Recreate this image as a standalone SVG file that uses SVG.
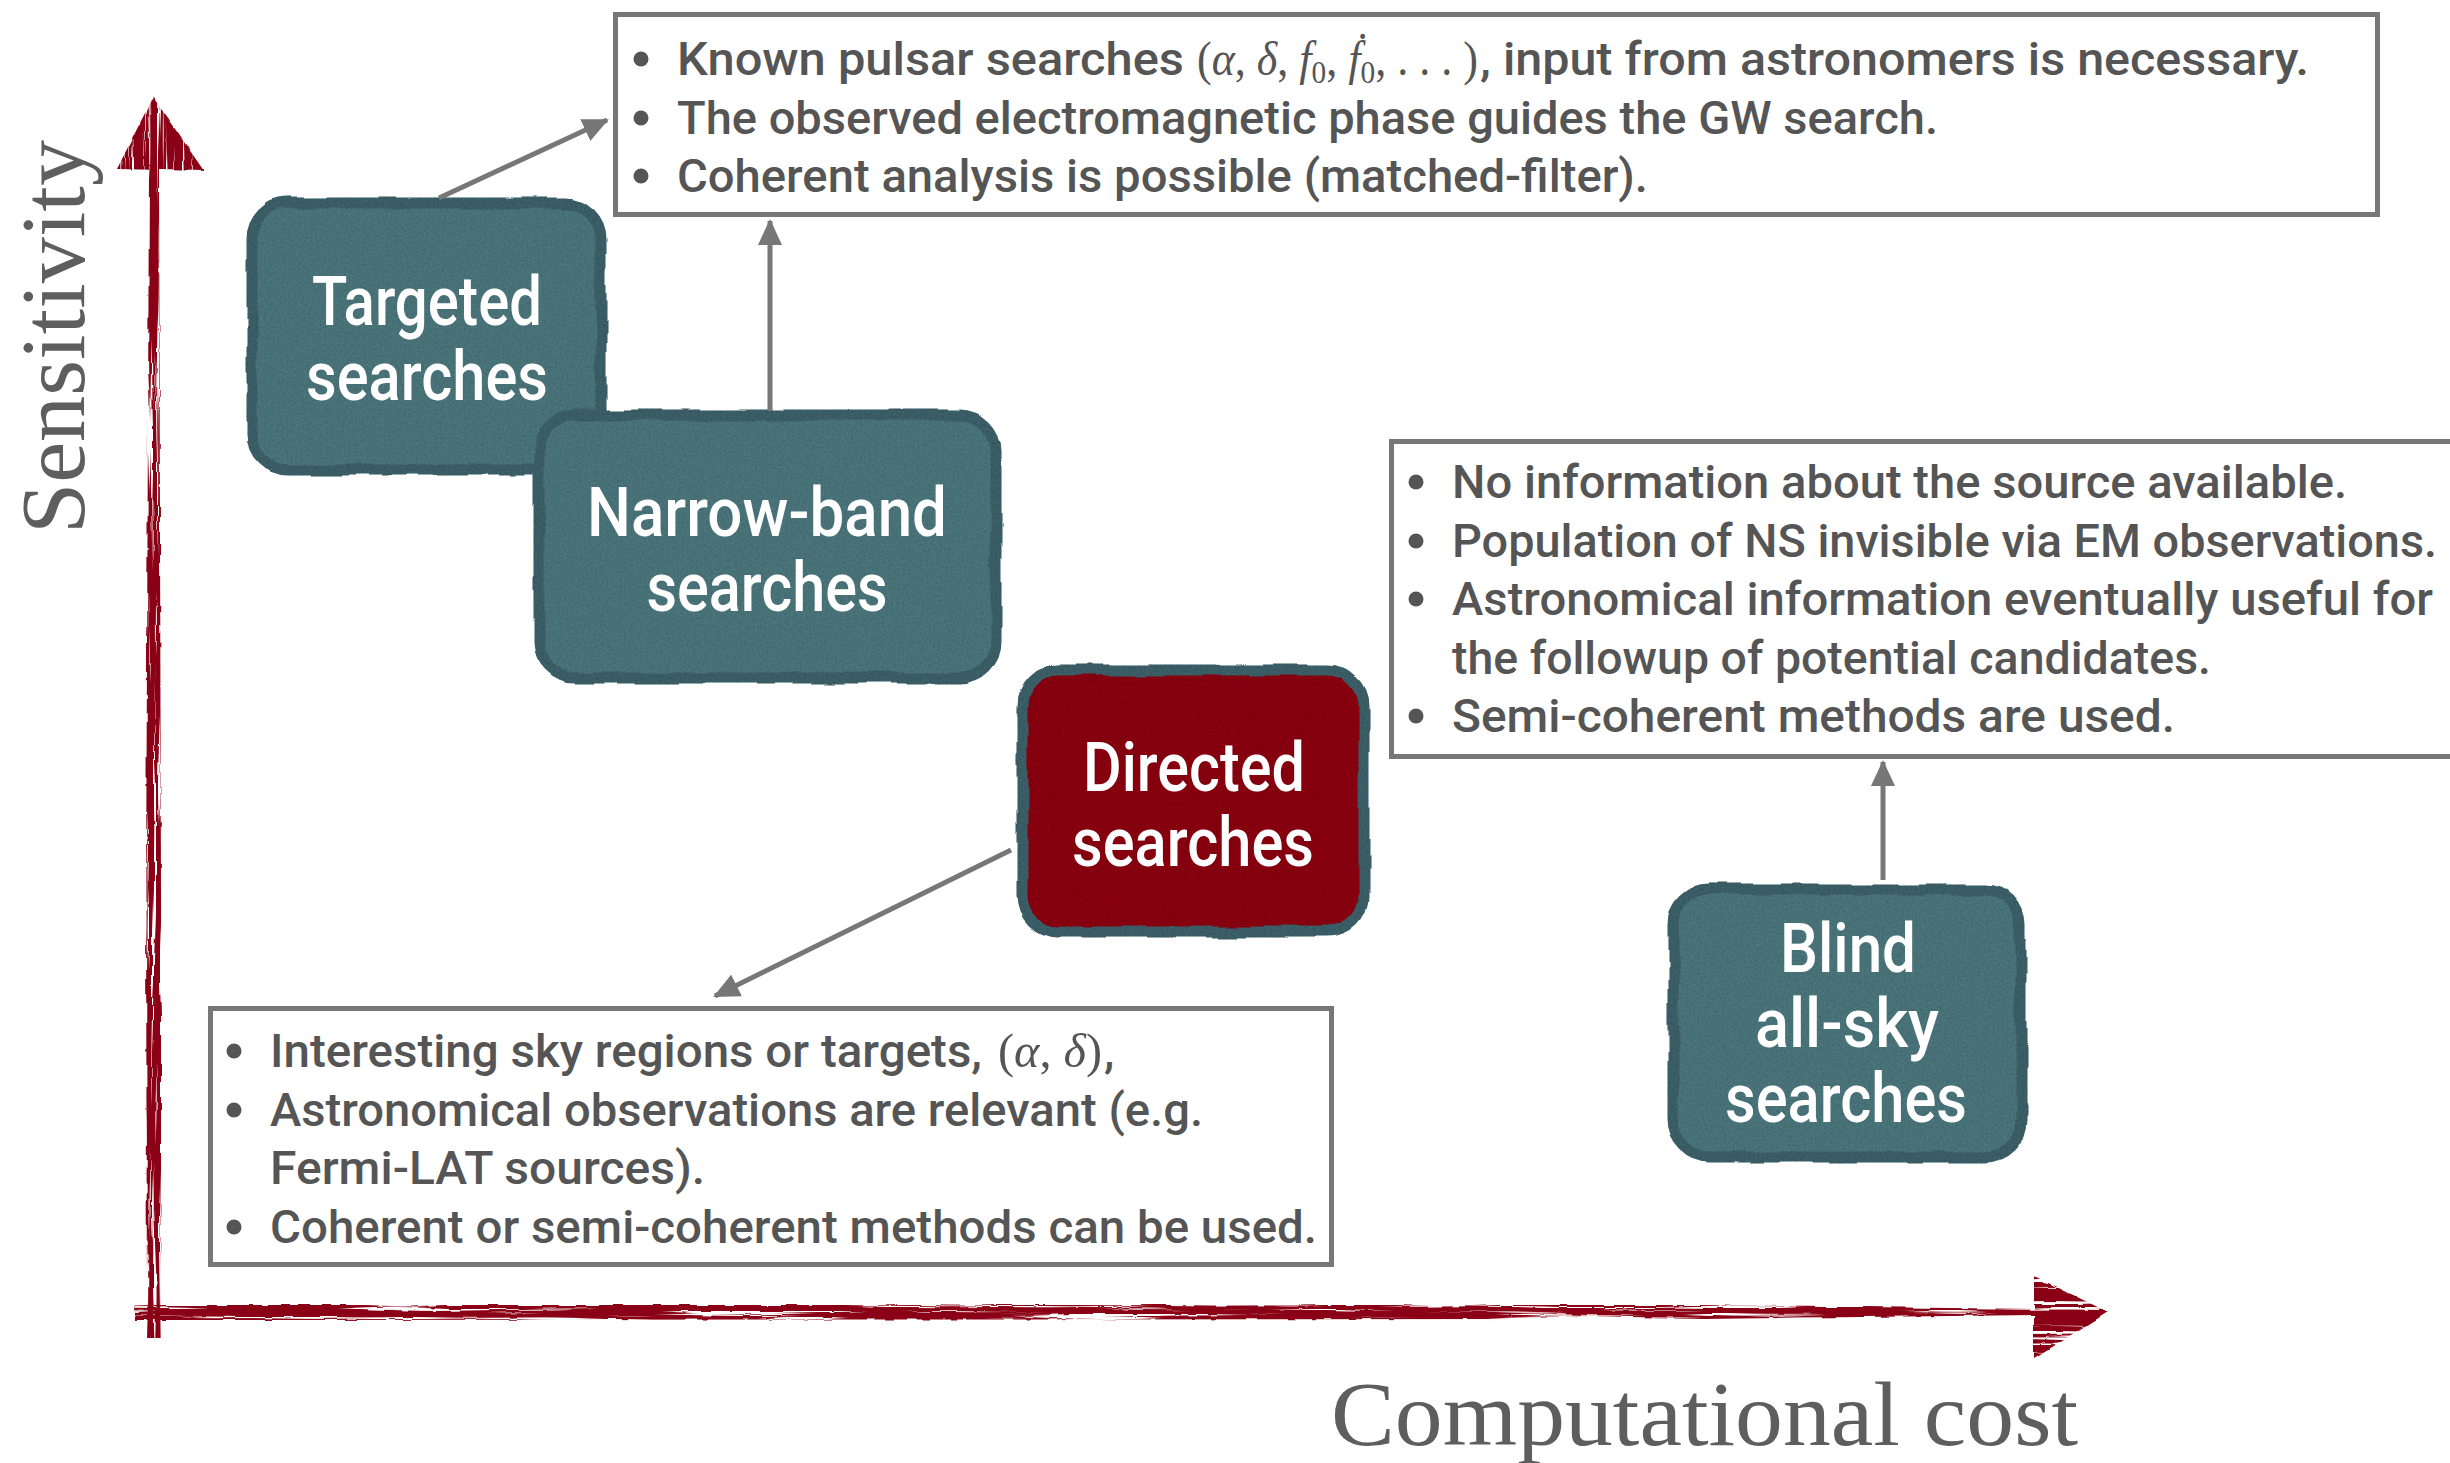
<svg xmlns="http://www.w3.org/2000/svg" width="2450" height="1463" viewBox="0 0 2450 1463">
  <defs>
    <style>
      .txt { font-family: Roboto, "Liberation Sans", sans-serif; font-size: 46px; font-weight: 500; fill: #555555; }
      .math { font-family: "Liberation Serif", serif; font-size: 48px; fill: #555555; }
      .it { font-style: italic; }
      .sub { font-size: 32px; }
      .label { font-family: Roboto, "Liberation Sans", sans-serif; font-size: 68px; font-weight: 500; fill: #ffffff; text-anchor: middle; }
      .axis-label { font-family: "Liberation Serif", serif; font-size: 92px; fill: #5e5e5e; }
      .note { fill: #ffffff; stroke: #777777; stroke-width: 5; }
      .bullet { fill: #555555; }
      .teal { fill: #4b767b; stroke: #3e6169; stroke-width: 11; }
      .red { fill: #8a0012; stroke: #3e6169; stroke-width: 11; }
      .conn { stroke: #777777; stroke-width: 5; fill: none; marker-end: url(#head); }
      .ink { fill: #8a0012; }
    </style>
    <marker id="head" markerUnits="userSpaceOnUse" markerWidth="26" markerHeight="24" refX="24" refY="12" orient="auto">
      <path d="M0,0 L26,12 L0,24 Z" fill="#777777"/>
    </marker>
    <!-- wobbly, lightly mottled edge for the search boxes -->
    <filter id="rough" x="-4%" y="-4%" width="108%" height="108%">
      <feTurbulence type="fractalNoise" baseFrequency="0.02" numOctaves="2" seed="7" result="warp"/>
      <feDisplacementMap in="SourceGraphic" in2="warp" scale="7" xChannelSelector="R" yChannelSelector="G" result="shape"/>
      <feTurbulence type="fractalNoise" baseFrequency="0.45" numOctaves="3" seed="2" result="grain"/>
      <feColorMatrix in="grain" type="matrix" values="0 0 0 0 0  0 0 0 0 0  0 0 0 0 0  0 0 0 0.5 -0.18" result="speck"/>
      <feComposite in="speck" in2="shape" operator="in" result="dots"/>
      <feMerge><feMergeNode in="shape"/><feMergeNode in="dots"/></feMerge>
    </filter>
    <!-- dry-brush strokes for the axes -->
    <filter id="brushH" filterUnits="userSpaceOnUse" x="0" y="1200" width="2450" height="200">
      <feTurbulence type="fractalNoise" baseFrequency="0.006 0.35" numOctaves="2" seed="4" result="n"/>
      <feColorMatrix in="n" type="matrix" values="0 0 0 0 0  0 0 0 0 0  0 0 0 0 0  0 0 0 -9 6.1" result="m"/>
      <feComposite in="SourceGraphic" in2="m" operator="in" result="c"/>
      <feTurbulence type="fractalNoise" baseFrequency="0.05" numOctaves="2" seed="9" result="w"/>
      <feDisplacementMap in="c" in2="w" scale="4" xChannelSelector="R" yChannelSelector="G"/>
    </filter>
    <filter id="brushV" filterUnits="userSpaceOnUse" x="60" y="60" width="200" height="1320">
      <feTurbulence type="fractalNoise" baseFrequency="0.35 0.006" numOctaves="2" seed="11" result="n"/>
      <feColorMatrix in="n" type="matrix" values="0 0 0 0 0  0 0 0 0 0  0 0 0 0 0  0 0 0 -9 6.1" result="m"/>
      <feComposite in="SourceGraphic" in2="m" operator="in" result="c"/>
      <feTurbulence type="fractalNoise" baseFrequency="0.05" numOctaves="2" seed="3" result="w"/>
      <feDisplacementMap in="c" in2="w" scale="4" xChannelSelector="R" yChannelSelector="G"/>
    </filter>
  </defs>

  <rect width="2450" height="1463" fill="#ffffff"/>

  <!-- axes -->
  <g id="axes">
    <g filter="url(#brushV)">
      <path class="ink" d="M147,1338 L146,900 L149,168 L159,168 L161,900 L161,1338 Z"/>
      <path class="ink" d="M153,97 L204,171 L117,169 Z"/>
    </g>
    <g filter="url(#brushH)">
      <path class="ink" d="M135,1305 L1700,1305 L2037,1309 L2037,1315 L1700,1319 L135,1320 Z"/>
      <path class="ink" d="M2034,1276 L2108,1312 L2034,1359 Z"/>
    </g>
    <text class="axis-label" transform="translate(84,534) rotate(-90)" textLength="394" lengthAdjust="spacingAndGlyphs">Sensitivity</text>
    <text class="axis-label" x="1331" y="1445" textLength="747" lengthAdjust="spacingAndGlyphs">Computational cost</text>
  </g>

  <!-- note boxes -->
  <g id="note-targeted">
    <rect class="note" x="615.5" y="14.5" width="1762" height="200"/>
    <circle class="bullet" cx="641" cy="59" r="7.5"/>
    <circle class="bullet" cx="641" cy="118" r="7.5"/>
    <circle class="bullet" cx="641" cy="176" r="7.5"/>
    <text class="txt" x="677" y="75" textLength="507" lengthAdjust="spacingAndGlyphs">Known pulsar searches</text>
    <text class="math" x="1197" y="75" textLength="281" lengthAdjust="spacingAndGlyphs">(<tspan class="it">α</tspan>, <tspan class="it">δ</tspan>, <tspan class="it">f</tspan><tspan class="sub" dy="8">0</tspan><tspan dy="-8">, </tspan><tspan class="it">ḟ</tspan><tspan class="sub" dy="8">0</tspan><tspan dy="-8">, . . . )</tspan></text>
    <text class="txt" x="1480" y="75" textLength="829" lengthAdjust="spacingAndGlyphs">, input from astronomers is necessary.</text>
    <text class="txt" x="677" y="134" textLength="1261" lengthAdjust="spacingAndGlyphs">The observed electromagnetic phase guides the GW search.</text>
    <text class="txt" x="677" y="192" textLength="971" lengthAdjust="spacingAndGlyphs">Coherent analysis is possible (matched-filter).</text>
  </g>

  <g id="note-blind">
    <rect class="note" x="1391.5" y="441.5" width="1100" height="315"/>
    <circle class="bullet" cx="1416" cy="482" r="7.5"/>
    <circle class="bullet" cx="1416" cy="541" r="7.5"/>
    <circle class="bullet" cx="1416" cy="599" r="7.5"/>
    <circle class="bullet" cx="1416" cy="716" r="7.5"/>
    <text class="txt" x="1452" y="498" textLength="895" lengthAdjust="spacingAndGlyphs">No information about the source available.</text>
    <text class="txt" x="1452" y="557" textLength="985" lengthAdjust="spacingAndGlyphs">Population of NS invisible via EM observations.</text>
    <text class="txt" x="1452" y="615" textLength="981" lengthAdjust="spacingAndGlyphs">Astronomical information eventually useful for</text>
    <text class="txt" x="1452" y="674" textLength="759" lengthAdjust="spacingAndGlyphs">the followup of potential candidates.</text>
    <text class="txt" x="1452" y="732" textLength="723" lengthAdjust="spacingAndGlyphs">Semi-coherent methods are used.</text>
  </g>

  <g id="note-directed">
    <rect class="note" x="210.5" y="1008.5" width="1121" height="256"/>
    <circle class="bullet" cx="234" cy="1051" r="7.5"/>
    <circle class="bullet" cx="234" cy="1110" r="7.5"/>
    <circle class="bullet" cx="234" cy="1227" r="7.5"/>
    <text class="txt" x="270" y="1067" textLength="712" lengthAdjust="spacingAndGlyphs">Interesting sky regions or targets,</text>
    <text class="math" x="998" y="1067" textLength="104" lengthAdjust="spacingAndGlyphs">(<tspan class="it">α</tspan>, <tspan class="it">δ</tspan>)</text>
    <text class="txt" x="1104" y="1067">,</text>
    <text class="txt" x="270" y="1126" textLength="933" lengthAdjust="spacingAndGlyphs">Astronomical observations are relevant (e.g.</text>
    <text class="txt" x="270" y="1184" textLength="435" lengthAdjust="spacingAndGlyphs">Fermi-LAT sources).</text>
    <text class="txt" x="270" y="1243" textLength="1047" lengthAdjust="spacingAndGlyphs">Coherent or semi-coherent methods can be used.</text>
  </g>

  <!-- search categories -->
  <g id="targeted">
    <rect class="teal" x="252" y="203" width="349" height="267" rx="36" filter="url(#rough)"/>
    <text class="label" x="427" y="325" textLength="230" lengthAdjust="spacingAndGlyphs">Targeted</text>
    <text class="label" x="427" y="400" textLength="242" lengthAdjust="spacingAndGlyphs">searches</text>
  </g>

  <g id="narrow-band">
    <rect class="teal" x="539" y="415" width="457" height="263" rx="36" filter="url(#rough)"/>
    <text class="label" x="767" y="536" textLength="360" lengthAdjust="spacingAndGlyphs">Narrow-band</text>
    <text class="label" x="767" y="611" textLength="241" lengthAdjust="spacingAndGlyphs">searches</text>
  </g>

  <g id="directed">
    <rect class="red" x="1022" y="670" width="342" height="262" rx="36" filter="url(#rough)"/>
    <text class="label" x="1194" y="791" textLength="222" lengthAdjust="spacingAndGlyphs">Directed</text>
    <text class="label" x="1193" y="866" textLength="242" lengthAdjust="spacingAndGlyphs">searches</text>
  </g>

  <g id="blind">
    <rect class="teal" x="1673" y="889" width="348" height="268" rx="36" filter="url(#rough)"/>
    <text class="label" x="1848" y="972" textLength="136" lengthAdjust="spacingAndGlyphs">Blind</text>
    <text class="label" x="1847" y="1047" textLength="184" lengthAdjust="spacingAndGlyphs">all-sky</text>
    <text class="label" x="1846" y="1122" textLength="242" lengthAdjust="spacingAndGlyphs">searches</text>
  </g>

  <!-- connectors -->
  <g id="connectors">
    <line class="conn" x1="439" y1="198" x2="607" y2="120"/>
    <line class="conn" x1="770" y1="411" x2="770" y2="221"/>
    <line class="conn" x1="1011" y1="850" x2="715" y2="996"/>
    <line class="conn" x1="1883" y1="880" x2="1883" y2="762"/>
  </g>
</svg>
